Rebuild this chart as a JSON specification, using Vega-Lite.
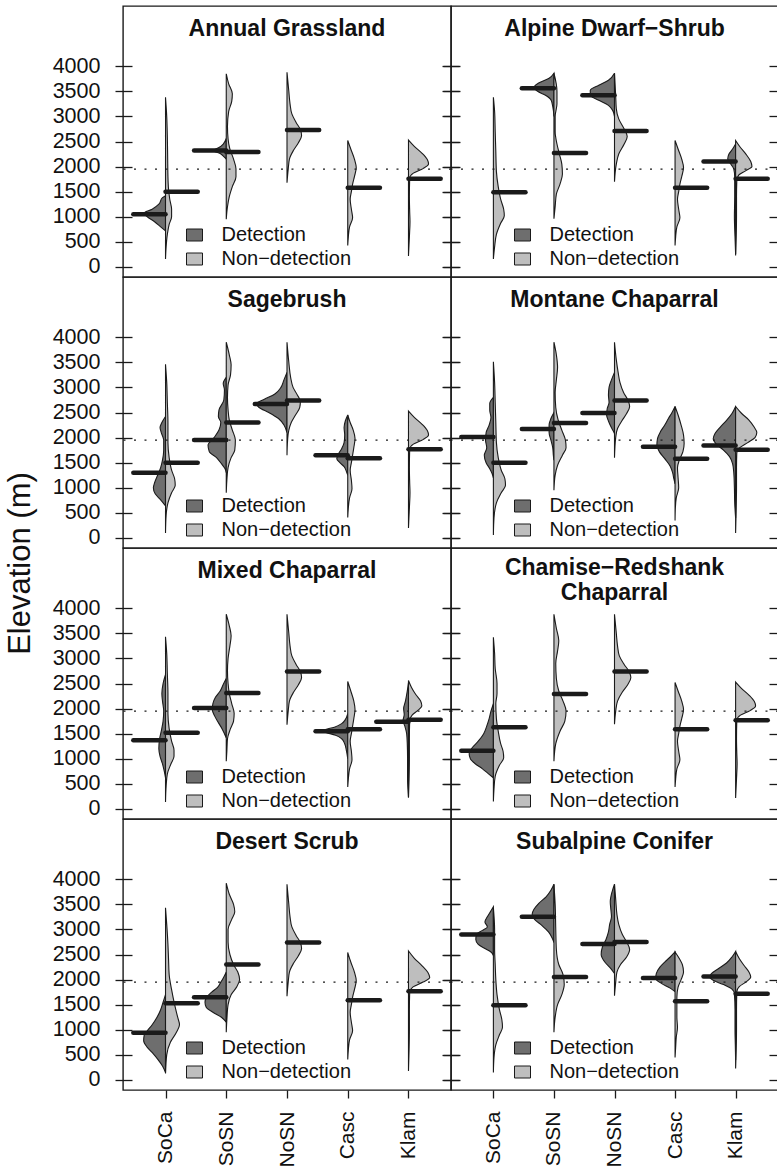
{
  "$schema": "https://vega.github.io/schema/vega-lite/v6.json",
  "background": "white",
  "padding": {"left": 5, "top": 5, "right": 0, "bottom": 0},
  "title": {"text": "Elevation (m)", "orient": "left", "anchor": "middle", "frame": "bounds", "fontSize": 31, "fontWeight": "normal", "offset": -10, "baseline": "alphabetic", "color": "#111", "dx": 23},
  "data": {"values": [
    {"p":1,"r":"SoCa","g":"D","e":1420,"d":0},{"p":1,"r":"SoCa","g":"D","e":1380,"d":0.05},{"p":1,"r":"SoCa","g":"D","e":1250,"d":0.11},{"p":1,"r":"SoCa","g":"D","e":1150,"d":0.22},{"p":1,"r":"SoCa","g":"D","e":1070,"d":0.36},{"p":1,"r":"SoCa","g":"D","e":1000,"d":0.3},{"p":1,"r":"SoCa","g":"D","e":900,"d":0.18},{"p":1,"r":"SoCa","g":"D","e":800,"d":0.08},{"p":1,"r":"SoCa","g":"D","e":720,"d":0},
    {"p":1,"r":"SoCa","g":"N","e":3380,"d":0},{"p":1,"r":"SoCa","g":"N","e":3000,"d":0.02},{"p":1,"r":"SoCa","g":"N","e":2600,"d":0.03},{"p":1,"r":"SoCa","g":"N","e":2200,"d":0.035},{"p":1,"r":"SoCa","g":"N","e":1800,"d":0.04},{"p":1,"r":"SoCa","g":"N","e":1550,"d":0.05},{"p":1,"r":"SoCa","g":"N","e":1350,"d":0.07},{"p":1,"r":"SoCa","g":"N","e":1150,"d":0.1},{"p":1,"r":"SoCa","g":"N","e":1000,"d":0.1},{"p":1,"r":"SoCa","g":"N","e":850,"d":0.06},{"p":1,"r":"SoCa","g":"N","e":650,"d":0.03},{"p":1,"r":"SoCa","g":"N","e":400,"d":0.01},{"p":1,"r":"SoCa","g":"N","e":160,"d":0},
    {"p":1,"r":"SoSN","g":"D","e":2560,"d":0},{"p":1,"r":"SoSN","g":"D","e":2450,"d":0.05},{"p":1,"r":"SoSN","g":"D","e":2380,"d":0.12},{"p":1,"r":"SoSN","g":"D","e":2320,"d":0.22},{"p":1,"r":"SoSN","g":"D","e":2260,"d":0.1},{"p":1,"r":"SoSN","g":"D","e":2200,"d":0.04},{"p":1,"r":"SoSN","g":"D","e":2150,"d":0},
    {"p":1,"r":"SoSN","g":"N","e":3850,"d":0},{"p":1,"r":"SoSN","g":"N","e":3650,"d":0.04},{"p":1,"r":"SoSN","g":"N","e":3450,"d":0.1},{"p":1,"r":"SoSN","g":"N","e":3300,"d":0.09},{"p":1,"r":"SoSN","g":"N","e":3100,"d":0.04},{"p":1,"r":"SoSN","g":"N","e":2800,"d":0.02},{"p":1,"r":"SoSN","g":"N","e":2550,"d":0.03},{"p":1,"r":"SoSN","g":"N","e":2350,"d":0.06},{"p":1,"r":"SoSN","g":"N","e":2150,"d":0.12},{"p":1,"r":"SoSN","g":"N","e":1950,"d":0.16},{"p":1,"r":"SoSN","g":"N","e":1800,"d":0.16},{"p":1,"r":"SoSN","g":"N","e":1600,"d":0.1},{"p":1,"r":"SoSN","g":"N","e":1400,"d":0.05},{"p":1,"r":"SoSN","g":"N","e":1200,"d":0.02},{"p":1,"r":"SoSN","g":"N","e":950,"d":0},
    {"p":1,"r":"NoSN","g":"N","e":3880,"d":0},{"p":1,"r":"NoSN","g":"N","e":3500,"d":0.03},{"p":1,"r":"NoSN","g":"N","e":3250,"d":0.05},{"p":1,"r":"NoSN","g":"N","e":3050,"d":0.08},{"p":1,"r":"NoSN","g":"N","e":2880,"d":0.15},{"p":1,"r":"NoSN","g":"N","e":2740,"d":0.22},{"p":1,"r":"NoSN","g":"N","e":2620,"d":0.24},{"p":1,"r":"NoSN","g":"N","e":2480,"d":0.19},{"p":1,"r":"NoSN","g":"N","e":2330,"d":0.11},{"p":1,"r":"NoSN","g":"N","e":2150,"d":0.04},{"p":1,"r":"NoSN","g":"N","e":1950,"d":0.02},{"p":1,"r":"NoSN","g":"N","e":1680,"d":0},
    {"p":1,"r":"Casc","g":"N","e":2520,"d":0},{"p":1,"r":"Casc","g":"N","e":2350,"d":0.05},{"p":1,"r":"Casc","g":"N","e":2150,"d":0.11},{"p":1,"r":"Casc","g":"N","e":1980,"d":0.14},{"p":1,"r":"Casc","g":"N","e":1800,"d":0.11},{"p":1,"r":"Casc","g":"N","e":1650,"d":0.08},{"p":1,"r":"Casc","g":"N","e":1500,"d":0.06},{"p":1,"r":"Casc","g":"N","e":1350,"d":0.04},{"p":1,"r":"Casc","g":"N","e":1150,"d":0.06},{"p":1,"r":"Casc","g":"N","e":980,"d":0.08},{"p":1,"r":"Casc","g":"N","e":800,"d":0.03},{"p":1,"r":"Casc","g":"N","e":600,"d":0.01},{"p":1,"r":"Casc","g":"N","e":430,"d":0},
    {"p":1,"r":"Klam","g":"N","e":2530,"d":0},{"p":1,"r":"Klam","g":"N","e":2400,"d":0.1},{"p":1,"r":"Klam","g":"N","e":2270,"d":0.22},{"p":1,"r":"Klam","g":"N","e":2140,"d":0.31},{"p":1,"r":"Klam","g":"N","e":2050,"d":0.33},{"p":1,"r":"Klam","g":"N","e":1960,"d":0.24},{"p":1,"r":"Klam","g":"N","e":1870,"d":0.08},{"p":1,"r":"Klam","g":"N","e":1770,"d":0.02},{"p":1,"r":"Klam","g":"N","e":1400,"d":0.015},{"p":1,"r":"Klam","g":"N","e":1100,"d":0.02},{"p":1,"r":"Klam","g":"N","e":900,"d":0.025},{"p":1,"r":"Klam","g":"N","e":600,"d":0.015},{"p":1,"r":"Klam","g":"N","e":220,"d":0},

    {"p":2,"r":"SoCa","g":"N","e":3380,"d":0},{"p":2,"r":"SoCa","g":"N","e":3100,"d":0.02},{"p":2,"r":"SoCa","g":"N","e":2700,"d":0.03},{"p":2,"r":"SoCa","g":"N","e":2300,"d":0.04},{"p":2,"r":"SoCa","g":"N","e":1900,"d":0.05},{"p":2,"r":"SoCa","g":"N","e":1600,"d":0.08},{"p":2,"r":"SoCa","g":"N","e":1350,"d":0.12},{"p":2,"r":"SoCa","g":"N","e":1150,"d":0.17},{"p":2,"r":"SoCa","g":"N","e":1020,"d":0.18},{"p":2,"r":"SoCa","g":"N","e":870,"d":0.12},{"p":2,"r":"SoCa","g":"N","e":650,"d":0.05},{"p":2,"r":"SoCa","g":"N","e":400,"d":0.02},{"p":2,"r":"SoCa","g":"N","e":160,"d":0},
    {"p":2,"r":"SoSN","g":"D","e":3860,"d":0},{"p":2,"r":"SoSN","g":"D","e":3760,"d":0.08},{"p":2,"r":"SoSN","g":"D","e":3660,"d":0.26},{"p":2,"r":"SoSN","g":"D","e":3580,"d":0.33},{"p":2,"r":"SoSN","g":"D","e":3500,"d":0.27},{"p":2,"r":"SoSN","g":"D","e":3420,"d":0.14},{"p":2,"r":"SoSN","g":"D","e":3330,"d":0.05},{"p":2,"r":"SoSN","g":"D","e":3200,"d":0.02},{"p":2,"r":"SoSN","g":"D","e":3000,"d":0},
    {"p":2,"r":"SoSN","g":"N","e":3860,"d":0},{"p":2,"r":"SoSN","g":"N","e":3500,"d":0.05},{"p":2,"r":"SoSN","g":"N","e":3250,"d":0.05},{"p":2,"r":"SoSN","g":"N","e":3000,"d":0.02},{"p":2,"r":"SoSN","g":"N","e":2700,"d":0.02},{"p":2,"r":"SoSN","g":"N","e":2450,"d":0.05},{"p":2,"r":"SoSN","g":"N","e":2250,"d":0.09},{"p":2,"r":"SoSN","g":"N","e":2050,"d":0.13},{"p":2,"r":"SoSN","g":"N","e":1850,"d":0.14},{"p":2,"r":"SoSN","g":"N","e":1650,"d":0.1},{"p":2,"r":"SoSN","g":"N","e":1450,"d":0.04},{"p":2,"r":"SoSN","g":"N","e":1200,"d":0.02},{"p":2,"r":"SoSN","g":"N","e":960,"d":0},
    {"p":2,"r":"NoSN","g":"D","e":3860,"d":0},{"p":2,"r":"NoSN","g":"D","e":3720,"d":0.1},{"p":2,"r":"NoSN","g":"D","e":3620,"d":0.26},{"p":2,"r":"NoSN","g":"D","e":3520,"d":0.4},{"p":2,"r":"NoSN","g":"D","e":3420,"d":0.4},{"p":2,"r":"NoSN","g":"D","e":3320,"d":0.26},{"p":2,"r":"NoSN","g":"D","e":3220,"d":0.1},{"p":2,"r":"NoSN","g":"D","e":3120,"d":0.03},{"p":2,"r":"NoSN","g":"D","e":3000,"d":0},
    {"p":2,"r":"NoSN","g":"N","e":3860,"d":0},{"p":2,"r":"NoSN","g":"N","e":3400,"d":0.02},{"p":2,"r":"NoSN","g":"N","e":3150,"d":0.03},{"p":2,"r":"NoSN","g":"N","e":2950,"d":0.07},{"p":2,"r":"NoSN","g":"N","e":2750,"d":0.16},{"p":2,"r":"NoSN","g":"N","e":2600,"d":0.21},{"p":2,"r":"NoSN","g":"N","e":2450,"d":0.16},{"p":2,"r":"NoSN","g":"N","e":2250,"d":0.07},{"p":2,"r":"NoSN","g":"N","e":2050,"d":0.03},{"p":2,"r":"NoSN","g":"N","e":1700,"d":0},
    {"p":2,"r":"Casc","g":"N","e":2520,"d":0},{"p":2,"r":"Casc","g":"N","e":2350,"d":0.05},{"p":2,"r":"Casc","g":"N","e":2150,"d":0.11},{"p":2,"r":"Casc","g":"N","e":1980,"d":0.14},{"p":2,"r":"Casc","g":"N","e":1800,"d":0.11},{"p":2,"r":"Casc","g":"N","e":1650,"d":0.08},{"p":2,"r":"Casc","g":"N","e":1500,"d":0.06},{"p":2,"r":"Casc","g":"N","e":1350,"d":0.04},{"p":2,"r":"Casc","g":"N","e":1150,"d":0.06},{"p":2,"r":"Casc","g":"N","e":980,"d":0.08},{"p":2,"r":"Casc","g":"N","e":800,"d":0.03},{"p":2,"r":"Casc","g":"N","e":600,"d":0.01},{"p":2,"r":"Casc","g":"N","e":430,"d":0},
    {"p":2,"r":"Klam","g":"D","e":2450,"d":0},{"p":2,"r":"Klam","g":"D","e":2350,"d":0.05},{"p":2,"r":"Klam","g":"D","e":2250,"d":0.11},{"p":2,"r":"Klam","g":"D","e":2150,"d":0.13},{"p":2,"r":"Klam","g":"D","e":2050,"d":0.08},{"p":2,"r":"Klam","g":"D","e":1950,"d":0.03},{"p":2,"r":"Klam","g":"D","e":1800,"d":0.015},{"p":2,"r":"Klam","g":"D","e":1400,"d":0.015},{"p":2,"r":"Klam","g":"D","e":1000,"d":0.02},{"p":2,"r":"Klam","g":"D","e":600,"d":0.01},{"p":2,"r":"Klam","g":"D","e":260,"d":0},
    {"p":2,"r":"Klam","g":"N","e":2520,"d":0},{"p":2,"r":"Klam","g":"N","e":2380,"d":0.08},{"p":2,"r":"Klam","g":"N","e":2250,"d":0.17},{"p":2,"r":"Klam","g":"N","e":2100,"d":0.25},{"p":2,"r":"Klam","g":"N","e":2000,"d":0.27},{"p":2,"r":"Klam","g":"N","e":1920,"d":0.17},{"p":2,"r":"Klam","g":"N","e":1830,"d":0.05},{"p":2,"r":"Klam","g":"N","e":1720,"d":0.02},{"p":2,"r":"Klam","g":"N","e":1400,"d":0.015},{"p":2,"r":"Klam","g":"N","e":1000,"d":0.015},{"p":2,"r":"Klam","g":"N","e":600,"d":0.01},{"p":2,"r":"Klam","g":"N","e":230,"d":0},

    {"p":3,"r":"SoCa","g":"D","e":2420,"d":0},{"p":3,"r":"SoCa","g":"D","e":2300,"d":0.06},{"p":3,"r":"SoCa","g":"D","e":2200,"d":0.09},{"p":3,"r":"SoCa","g":"D","e":2100,"d":0.07},{"p":3,"r":"SoCa","g":"D","e":1950,"d":0.03},{"p":3,"r":"SoCa","g":"D","e":1750,"d":0.03},{"p":3,"r":"SoCa","g":"D","e":1550,"d":0.05},{"p":3,"r":"SoCa","g":"D","e":1400,"d":0.08},{"p":3,"r":"SoCa","g":"D","e":1250,"d":0.13},{"p":3,"r":"SoCa","g":"D","e":1100,"d":0.18},{"p":3,"r":"SoCa","g":"D","e":1000,"d":0.2},{"p":3,"r":"SoCa","g":"D","e":880,"d":0.17},{"p":3,"r":"SoCa","g":"D","e":760,"d":0.08},{"p":3,"r":"SoCa","g":"D","e":640,"d":0},
    {"p":3,"r":"SoCa","g":"N","e":3460,"d":0},{"p":3,"r":"SoCa","g":"N","e":3100,"d":0.02},{"p":3,"r":"SoCa","g":"N","e":2700,"d":0.03},{"p":3,"r":"SoCa","g":"N","e":2300,"d":0.04},{"p":3,"r":"SoCa","g":"N","e":1900,"d":0.04},{"p":3,"r":"SoCa","g":"N","e":1600,"d":0.06},{"p":3,"r":"SoCa","g":"N","e":1350,"d":0.1},{"p":3,"r":"SoCa","g":"N","e":1180,"d":0.15},{"p":3,"r":"SoCa","g":"N","e":1050,"d":0.16},{"p":3,"r":"SoCa","g":"N","e":900,"d":0.1},{"p":3,"r":"SoCa","g":"N","e":700,"d":0.04},{"p":3,"r":"SoCa","g":"N","e":450,"d":0.01},{"p":3,"r":"SoCa","g":"N","e":100,"d":0},
    {"p":3,"r":"SoSN","g":"D","e":3200,"d":0},{"p":3,"r":"SoSN","g":"D","e":3080,"d":0.05},{"p":3,"r":"SoSN","g":"D","e":2950,"d":0.03},{"p":3,"r":"SoSN","g":"D","e":2750,"d":0.04},{"p":3,"r":"SoSN","g":"D","e":2550,"d":0.12},{"p":3,"r":"SoSN","g":"D","e":2420,"d":0.13},{"p":3,"r":"SoSN","g":"D","e":2300,"d":0.09},{"p":3,"r":"SoSN","g":"D","e":2150,"d":0.12},{"p":3,"r":"SoSN","g":"D","e":2000,"d":0.2},{"p":3,"r":"SoSN","g":"D","e":1850,"d":0.3},{"p":3,"r":"SoSN","g":"D","e":1720,"d":0.28},{"p":3,"r":"SoSN","g":"D","e":1600,"d":0.16},{"p":3,"r":"SoSN","g":"D","e":1480,"d":0.08},{"p":3,"r":"SoSN","g":"D","e":1380,"d":0.02},{"p":3,"r":"SoSN","g":"D","e":1300,"d":0},
    {"p":3,"r":"SoSN","g":"N","e":3900,"d":0},{"p":3,"r":"SoSN","g":"N","e":3650,"d":0.05},{"p":3,"r":"SoSN","g":"N","e":3450,"d":0.08},{"p":3,"r":"SoSN","g":"N","e":3250,"d":0.07},{"p":3,"r":"SoSN","g":"N","e":3050,"d":0.03},{"p":3,"r":"SoSN","g":"N","e":2800,"d":0.02},{"p":3,"r":"SoSN","g":"N","e":2550,"d":0.03},{"p":3,"r":"SoSN","g":"N","e":2350,"d":0.05},{"p":3,"r":"SoSN","g":"N","e":2150,"d":0.1},{"p":3,"r":"SoSN","g":"N","e":1950,"d":0.15},{"p":3,"r":"SoSN","g":"N","e":1750,"d":0.14},{"p":3,"r":"SoSN","g":"N","e":1600,"d":0.08},{"p":3,"r":"SoSN","g":"N","e":1400,"d":0.03},{"p":3,"r":"SoSN","g":"N","e":1150,"d":0.01},{"p":3,"r":"SoSN","g":"N","e":900,"d":0},
    {"p":3,"r":"NoSN","g":"D","e":3300,"d":0},{"p":3,"r":"NoSN","g":"D","e":3150,"d":0.05},{"p":3,"r":"NoSN","g":"D","e":3000,"d":0.1},{"p":3,"r":"NoSN","g":"D","e":2870,"d":0.2},{"p":3,"r":"NoSN","g":"D","e":2760,"d":0.38},{"p":3,"r":"NoSN","g":"D","e":2680,"d":0.5},{"p":3,"r":"NoSN","g":"D","e":2600,"d":0.46},{"p":3,"r":"NoSN","g":"D","e":2500,"d":0.3},{"p":3,"r":"NoSN","g":"D","e":2380,"d":0.14},{"p":3,"r":"NoSN","g":"D","e":2250,"d":0.05},{"p":3,"r":"NoSN","g":"D","e":2100,"d":0},
    {"p":3,"r":"NoSN","g":"N","e":3900,"d":0},{"p":3,"r":"NoSN","g":"N","e":3500,"d":0.03},{"p":3,"r":"NoSN","g":"N","e":3200,"d":0.06},{"p":3,"r":"NoSN","g":"N","e":3000,"d":0.1},{"p":3,"r":"NoSN","g":"N","e":2850,"d":0.17},{"p":3,"r":"NoSN","g":"N","e":2720,"d":0.22},{"p":3,"r":"NoSN","g":"N","e":2600,"d":0.21},{"p":3,"r":"NoSN","g":"N","e":2450,"d":0.14},{"p":3,"r":"NoSN","g":"N","e":2300,"d":0.07},{"p":3,"r":"NoSN","g":"N","e":2150,"d":0.03},{"p":3,"r":"NoSN","g":"N","e":1950,"d":0.01},{"p":3,"r":"NoSN","g":"N","e":1650,"d":0},
    {"p":3,"r":"Casc","g":"D","e":2450,"d":0},{"p":3,"r":"Casc","g":"D","e":2330,"d":0.04},{"p":3,"r":"Casc","g":"D","e":2200,"d":0.06},{"p":3,"r":"Casc","g":"D","e":2050,"d":0.05},{"p":3,"r":"Casc","g":"D","e":1900,"d":0.06},{"p":3,"r":"Casc","g":"D","e":1780,"d":0.1},{"p":3,"r":"Casc","g":"D","e":1680,"d":0.15},{"p":3,"r":"Casc","g":"D","e":1580,"d":0.18},{"p":3,"r":"Casc","g":"D","e":1500,"d":0.13},{"p":3,"r":"Casc","g":"D","e":1420,"d":0.06},{"p":3,"r":"Casc","g":"D","e":1320,"d":0.02},{"p":3,"r":"Casc","g":"D","e":1250,"d":0},
    {"p":3,"r":"Casc","g":"N","e":2450,"d":0},{"p":3,"r":"Casc","g":"N","e":2300,"d":0.04},{"p":3,"r":"Casc","g":"N","e":2150,"d":0.09},{"p":3,"r":"Casc","g":"N","e":1980,"d":0.12},{"p":3,"r":"Casc","g":"N","e":1800,"d":0.1},{"p":3,"r":"Casc","g":"N","e":1650,"d":0.08},{"p":3,"r":"Casc","g":"N","e":1500,"d":0.06},{"p":3,"r":"Casc","g":"N","e":1350,"d":0.04},{"p":3,"r":"Casc","g":"N","e":1150,"d":0.06},{"p":3,"r":"Casc","g":"N","e":980,"d":0.07},{"p":3,"r":"Casc","g":"N","e":800,"d":0.03},{"p":3,"r":"Casc","g":"N","e":600,"d":0.01},{"p":3,"r":"Casc","g":"N","e":410,"d":0},
    {"p":3,"r":"Klam","g":"N","e":2530,"d":0},{"p":3,"r":"Klam","g":"N","e":2400,"d":0.1},{"p":3,"r":"Klam","g":"N","e":2270,"d":0.22},{"p":3,"r":"Klam","g":"N","e":2140,"d":0.31},{"p":3,"r":"Klam","g":"N","e":2050,"d":0.33},{"p":3,"r":"Klam","g":"N","e":1960,"d":0.24},{"p":3,"r":"Klam","g":"N","e":1870,"d":0.08},{"p":3,"r":"Klam","g":"N","e":1770,"d":0.02},{"p":3,"r":"Klam","g":"N","e":1400,"d":0.015},{"p":3,"r":"Klam","g":"N","e":1100,"d":0.02},{"p":3,"r":"Klam","g":"N","e":900,"d":0.025},{"p":3,"r":"Klam","g":"N","e":600,"d":0.015},{"p":3,"r":"Klam","g":"N","e":200,"d":0},

    {"p":4,"r":"SoCa","g":"D","e":2800,"d":0},{"p":4,"r":"SoCa","g":"D","e":2680,"d":0.06},{"p":4,"r":"SoCa","g":"D","e":2550,"d":0.06},{"p":4,"r":"SoCa","g":"D","e":2400,"d":0.04},{"p":4,"r":"SoCa","g":"D","e":2250,"d":0.07},{"p":4,"r":"SoCa","g":"D","e":2100,"d":0.12},{"p":4,"r":"SoCa","g":"D","e":1950,"d":0.13},{"p":4,"r":"SoCa","g":"D","e":1800,"d":0.11},{"p":4,"r":"SoCa","g":"D","e":1650,"d":0.15},{"p":4,"r":"SoCa","g":"D","e":1500,"d":0.12},{"p":4,"r":"SoCa","g":"D","e":1380,"d":0.06},{"p":4,"r":"SoCa","g":"D","e":1280,"d":0.02},{"p":4,"r":"SoCa","g":"D","e":1200,"d":0},
    {"p":4,"r":"SoCa","g":"N","e":3510,"d":0},{"p":4,"r":"SoCa","g":"N","e":3100,"d":0.02},{"p":4,"r":"SoCa","g":"N","e":2700,"d":0.03},{"p":4,"r":"SoCa","g":"N","e":2300,"d":0.04},{"p":4,"r":"SoCa","g":"N","e":1900,"d":0.05},{"p":4,"r":"SoCa","g":"N","e":1600,"d":0.08},{"p":4,"r":"SoCa","g":"N","e":1350,"d":0.13},{"p":4,"r":"SoCa","g":"N","e":1180,"d":0.19},{"p":4,"r":"SoCa","g":"N","e":1050,"d":0.2},{"p":4,"r":"SoCa","g":"N","e":900,"d":0.13},{"p":4,"r":"SoCa","g":"N","e":700,"d":0.05},{"p":4,"r":"SoCa","g":"N","e":400,"d":0.01},{"p":4,"r":"SoCa","g":"N","e":60,"d":0},
    {"p":4,"r":"SoSN","g":"D","e":2500,"d":0},{"p":4,"r":"SoSN","g":"D","e":2380,"d":0.05},{"p":4,"r":"SoSN","g":"D","e":2250,"d":0.08},{"p":4,"r":"SoSN","g":"D","e":2100,"d":0.08},{"p":4,"r":"SoSN","g":"D","e":1950,"d":0.05},{"p":4,"r":"SoSN","g":"D","e":1800,"d":0.02},{"p":4,"r":"SoSN","g":"D","e":1650,"d":0.01},{"p":4,"r":"SoSN","g":"D","e":1550,"d":0},
    {"p":4,"r":"SoSN","g":"N","e":3900,"d":0},{"p":4,"r":"SoSN","g":"N","e":3650,"d":0.04},{"p":4,"r":"SoSN","g":"N","e":3400,"d":0.06},{"p":4,"r":"SoSN","g":"N","e":3150,"d":0.04},{"p":4,"r":"SoSN","g":"N","e":2900,"d":0.02},{"p":4,"r":"SoSN","g":"N","e":2600,"d":0.03},{"p":4,"r":"SoSN","g":"N","e":2350,"d":0.07},{"p":4,"r":"SoSN","g":"N","e":2150,"d":0.13},{"p":4,"r":"SoSN","g":"N","e":1950,"d":0.19},{"p":4,"r":"SoSN","g":"N","e":1800,"d":0.2},{"p":4,"r":"SoSN","g":"N","e":1650,"d":0.14},{"p":4,"r":"SoSN","g":"N","e":1450,"d":0.06},{"p":4,"r":"SoSN","g":"N","e":1250,"d":0.02},{"p":4,"r":"SoSN","g":"N","e":950,"d":0},
    {"p":4,"r":"NoSN","g":"D","e":3300,"d":0},{"p":4,"r":"NoSN","g":"D","e":3150,"d":0.05},{"p":4,"r":"NoSN","g":"D","e":3000,"d":0.09},{"p":4,"r":"NoSN","g":"D","e":2850,"d":0.1},{"p":4,"r":"NoSN","g":"D","e":2700,"d":0.09},{"p":4,"r":"NoSN","g":"D","e":2580,"d":0.12},{"p":4,"r":"NoSN","g":"D","e":2450,"d":0.13},{"p":4,"r":"NoSN","g":"D","e":2330,"d":0.1},{"p":4,"r":"NoSN","g":"D","e":2220,"d":0.06},{"p":4,"r":"NoSN","g":"D","e":2130,"d":0.02},{"p":4,"r":"NoSN","g":"D","e":2080,"d":0},
    {"p":4,"r":"NoSN","g":"N","e":3900,"d":0},{"p":4,"r":"NoSN","g":"N","e":3550,"d":0.03},{"p":4,"r":"NoSN","g":"N","e":3300,"d":0.06},{"p":4,"r":"NoSN","g":"N","e":3100,"d":0.09},{"p":4,"r":"NoSN","g":"N","e":2900,"d":0.15},{"p":4,"r":"NoSN","g":"N","e":2750,"d":0.22},{"p":4,"r":"NoSN","g":"N","e":2620,"d":0.25},{"p":4,"r":"NoSN","g":"N","e":2480,"d":0.2},{"p":4,"r":"NoSN","g":"N","e":2330,"d":0.12},{"p":4,"r":"NoSN","g":"N","e":2180,"d":0.05},{"p":4,"r":"NoSN","g":"N","e":2000,"d":0.02},{"p":4,"r":"NoSN","g":"N","e":1600,"d":0},
    {"p":4,"r":"Casc","g":"D","e":2620,"d":0},{"p":4,"r":"Casc","g":"D","e":2500,"d":0.05},{"p":4,"r":"Casc","g":"D","e":2380,"d":0.11},{"p":4,"r":"Casc","g":"D","e":2250,"d":0.17},{"p":4,"r":"Casc","g":"D","e":2120,"d":0.24},{"p":4,"r":"Casc","g":"D","e":1980,"d":0.29},{"p":4,"r":"Casc","g":"D","e":1850,"d":0.3},{"p":4,"r":"Casc","g":"D","e":1720,"d":0.26},{"p":4,"r":"Casc","g":"D","e":1580,"d":0.17},{"p":4,"r":"Casc","g":"D","e":1430,"d":0.08},{"p":4,"r":"Casc","g":"D","e":1300,"d":0.04},{"p":4,"r":"Casc","g":"D","e":1180,"d":0.02},{"p":4,"r":"Casc","g":"D","e":1080,"d":0},
    {"p":4,"r":"Casc","g":"N","e":2620,"d":0},{"p":4,"r":"Casc","g":"N","e":2450,"d":0.05},{"p":4,"r":"Casc","g":"N","e":2250,"d":0.1},{"p":4,"r":"Casc","g":"N","e":2050,"d":0.14},{"p":4,"r":"Casc","g":"N","e":1880,"d":0.15},{"p":4,"r":"Casc","g":"N","e":1720,"d":0.13},{"p":4,"r":"Casc","g":"N","e":1550,"d":0.07},{"p":4,"r":"Casc","g":"N","e":1400,"d":0.04},{"p":4,"r":"Casc","g":"N","e":1200,"d":0.05},{"p":4,"r":"Casc","g":"N","e":1000,"d":0.06},{"p":4,"r":"Casc","g":"N","e":800,"d":0.02},{"p":4,"r":"Casc","g":"N","e":600,"d":0.005},{"p":4,"r":"Casc","g":"N","e":350,"d":0},
    {"p":4,"r":"Klam","g":"D","e":2620,"d":0},{"p":4,"r":"Klam","g":"D","e":2480,"d":0.06},{"p":4,"r":"Klam","g":"D","e":2330,"d":0.16},{"p":4,"r":"Klam","g":"D","e":2200,"d":0.26},{"p":4,"r":"Klam","g":"D","e":2080,"d":0.34},{"p":4,"r":"Klam","g":"D","e":1970,"d":0.37},{"p":4,"r":"Klam","g":"D","e":1870,"d":0.32},{"p":4,"r":"Klam","g":"D","e":1750,"d":0.2},{"p":4,"r":"Klam","g":"D","e":1620,"d":0.1},{"p":4,"r":"Klam","g":"D","e":1480,"d":0.05},{"p":4,"r":"Klam","g":"D","e":1300,"d":0.03},{"p":4,"r":"Klam","g":"D","e":1000,"d":0.02},{"p":4,"r":"Klam","g":"D","e":700,"d":0.015},{"p":4,"r":"Klam","g":"D","e":400,"d":0},
    {"p":4,"r":"Klam","g":"N","e":2620,"d":0},{"p":4,"r":"Klam","g":"N","e":2480,"d":0.1},{"p":4,"r":"Klam","g":"N","e":2350,"d":0.22},{"p":4,"r":"Klam","g":"N","e":2220,"d":0.3},{"p":4,"r":"Klam","g":"N","e":2100,"d":0.35},{"p":4,"r":"Klam","g":"N","e":2000,"d":0.32},{"p":4,"r":"Klam","g":"N","e":1900,"d":0.2},{"p":4,"r":"Klam","g":"N","e":1800,"d":0.07},{"p":4,"r":"Klam","g":"N","e":1700,"d":0.02},{"p":4,"r":"Klam","g":"N","e":1400,"d":0.015},{"p":4,"r":"Klam","g":"N","e":1000,"d":0.015},{"p":4,"r":"Klam","g":"N","e":600,"d":0.01},{"p":4,"r":"Klam","g":"N","e":100,"d":0},

    {"p":5,"r":"SoCa","g":"D","e":2680,"d":0},{"p":5,"r":"SoCa","g":"D","e":2500,"d":0.04},{"p":5,"r":"SoCa","g":"D","e":2300,"d":0.06},{"p":5,"r":"SoCa","g":"D","e":2150,"d":0.05},{"p":5,"r":"SoCa","g":"D","e":1950,"d":0.03},{"p":5,"r":"SoCa","g":"D","e":1750,"d":0.04},{"p":5,"r":"SoCa","g":"D","e":1550,"d":0.07},{"p":5,"r":"SoCa","g":"D","e":1380,"d":0.1},{"p":5,"r":"SoCa","g":"D","e":1200,"d":0.11},{"p":5,"r":"SoCa","g":"D","e":1050,"d":0.09},{"p":5,"r":"SoCa","g":"D","e":900,"d":0.05},{"p":5,"r":"SoCa","g":"D","e":750,"d":0.02},{"p":5,"r":"SoCa","g":"D","e":620,"d":0},
    {"p":5,"r":"SoCa","g":"N","e":3430,"d":0},{"p":5,"r":"SoCa","g":"N","e":3100,"d":0.02},{"p":5,"r":"SoCa","g":"N","e":2700,"d":0.03},{"p":5,"r":"SoCa","g":"N","e":2300,"d":0.04},{"p":5,"r":"SoCa","g":"N","e":1900,"d":0.04},{"p":5,"r":"SoCa","g":"N","e":1600,"d":0.06},{"p":5,"r":"SoCa","g":"N","e":1350,"d":0.1},{"p":5,"r":"SoCa","g":"N","e":1170,"d":0.14},{"p":5,"r":"SoCa","g":"N","e":1050,"d":0.14},{"p":5,"r":"SoCa","g":"N","e":900,"d":0.09},{"p":5,"r":"SoCa","g":"N","e":700,"d":0.03},{"p":5,"r":"SoCa","g":"N","e":450,"d":0.01},{"p":5,"r":"SoCa","g":"N","e":140,"d":0},
    {"p":5,"r":"SoSN","g":"D","e":2600,"d":0},{"p":5,"r":"SoSN","g":"D","e":2480,"d":0.05},{"p":5,"r":"SoSN","g":"D","e":2350,"d":0.1},{"p":5,"r":"SoSN","g":"D","e":2220,"d":0.18},{"p":5,"r":"SoSN","g":"D","e":2100,"d":0.22},{"p":5,"r":"SoSN","g":"D","e":1980,"d":0.23},{"p":5,"r":"SoSN","g":"D","e":1850,"d":0.19},{"p":5,"r":"SoSN","g":"D","e":1720,"d":0.13},{"p":5,"r":"SoSN","g":"D","e":1600,"d":0.07},{"p":5,"r":"SoSN","g":"D","e":1500,"d":0.03},{"p":5,"r":"SoSN","g":"D","e":1420,"d":0},
    {"p":5,"r":"SoSN","g":"N","e":3880,"d":0},{"p":5,"r":"SoSN","g":"N","e":3650,"d":0.05},{"p":5,"r":"SoSN","g":"N","e":3450,"d":0.08},{"p":5,"r":"SoSN","g":"N","e":3250,"d":0.06},{"p":5,"r":"SoSN","g":"N","e":3000,"d":0.03},{"p":5,"r":"SoSN","g":"N","e":2750,"d":0.02},{"p":5,"r":"SoSN","g":"N","e":2500,"d":0.03},{"p":5,"r":"SoSN","g":"N","e":2300,"d":0.05},{"p":5,"r":"SoSN","g":"N","e":2100,"d":0.09},{"p":5,"r":"SoSN","g":"N","e":1900,"d":0.13},{"p":5,"r":"SoSN","g":"N","e":1750,"d":0.12},{"p":5,"r":"SoSN","g":"N","e":1600,"d":0.07},{"p":5,"r":"SoSN","g":"N","e":1400,"d":0.02},{"p":5,"r":"SoSN","g":"N","e":1150,"d":0.01},{"p":5,"r":"SoSN","g":"N","e":950,"d":0},
    {"p":5,"r":"NoSN","g":"N","e":3880,"d":0},{"p":5,"r":"NoSN","g":"N","e":3500,"d":0.03},{"p":5,"r":"NoSN","g":"N","e":3250,"d":0.05},{"p":5,"r":"NoSN","g":"N","e":3050,"d":0.08},{"p":5,"r":"NoSN","g":"N","e":2880,"d":0.15},{"p":5,"r":"NoSN","g":"N","e":2740,"d":0.22},{"p":5,"r":"NoSN","g":"N","e":2620,"d":0.24},{"p":5,"r":"NoSN","g":"N","e":2480,"d":0.19},{"p":5,"r":"NoSN","g":"N","e":2330,"d":0.11},{"p":5,"r":"NoSN","g":"N","e":2150,"d":0.04},{"p":5,"r":"NoSN","g":"N","e":1950,"d":0.02},{"p":5,"r":"NoSN","g":"N","e":1680,"d":0},
    {"p":5,"r":"Casc","g":"D","e":1900,"d":0},{"p":5,"r":"Casc","g":"D","e":1780,"d":0.04},{"p":5,"r":"Casc","g":"D","e":1700,"d":0.1},{"p":5,"r":"Casc","g":"D","e":1630,"d":0.22},{"p":5,"r":"Casc","g":"D","e":1580,"d":0.38},{"p":5,"r":"Casc","g":"D","e":1555,"d":0.45},{"p":5,"r":"Casc","g":"D","e":1520,"d":0.35},{"p":5,"r":"Casc","g":"D","e":1470,"d":0.2},{"p":5,"r":"Casc","g":"D","e":1400,"d":0.1},{"p":5,"r":"Casc","g":"D","e":1300,"d":0.05},{"p":5,"r":"Casc","g":"D","e":1150,"d":0.02},{"p":5,"r":"Casc","g":"D","e":1000,"d":0},
    {"p":5,"r":"Casc","g":"N","e":2540,"d":0},{"p":5,"r":"Casc","g":"N","e":2350,"d":0.05},{"p":5,"r":"Casc","g":"N","e":2150,"d":0.1},{"p":5,"r":"Casc","g":"N","e":1980,"d":0.12},{"p":5,"r":"Casc","g":"N","e":1800,"d":0.1},{"p":5,"r":"Casc","g":"N","e":1650,"d":0.08},{"p":5,"r":"Casc","g":"N","e":1500,"d":0.06},{"p":5,"r":"Casc","g":"N","e":1350,"d":0.04},{"p":5,"r":"Casc","g":"N","e":1150,"d":0.06},{"p":5,"r":"Casc","g":"N","e":980,"d":0.07},{"p":5,"r":"Casc","g":"N","e":800,"d":0.03},{"p":5,"r":"Casc","g":"N","e":600,"d":0.01},{"p":5,"r":"Casc","g":"N","e":440,"d":0},
    {"p":5,"r":"Klam","g":"D","e":2520,"d":0},{"p":5,"r":"Klam","g":"D","e":2350,"d":0.02},{"p":5,"r":"Klam","g":"D","e":2150,"d":0.05},{"p":5,"r":"Klam","g":"D","e":2000,"d":0.08},{"p":5,"r":"Klam","g":"D","e":1880,"d":0.07},{"p":5,"r":"Klam","g":"D","e":1760,"d":0.09},{"p":5,"r":"Klam","g":"D","e":1650,"d":0.06},{"p":5,"r":"Klam","g":"D","e":1500,"d":0.03},{"p":5,"r":"Klam","g":"D","e":1300,"d":0.02},{"p":5,"r":"Klam","g":"D","e":1000,"d":0.015},{"p":5,"r":"Klam","g":"D","e":600,"d":0.015},{"p":5,"r":"Klam","g":"D","e":230,"d":0},
    {"p":5,"r":"Klam","g":"N","e":2560,"d":0},{"p":5,"r":"Klam","g":"N","e":2420,"d":0.05},{"p":5,"r":"Klam","g":"N","e":2280,"d":0.12},{"p":5,"r":"Klam","g":"N","e":2150,"d":0.2},{"p":5,"r":"Klam","g":"N","e":2050,"d":0.22},{"p":5,"r":"Klam","g":"N","e":1960,"d":0.15},{"p":5,"r":"Klam","g":"N","e":1870,"d":0.06},{"p":5,"r":"Klam","g":"N","e":1760,"d":0.02},{"p":5,"r":"Klam","g":"N","e":1400,"d":0.015},{"p":5,"r":"Klam","g":"N","e":1000,"d":0.015},{"p":5,"r":"Klam","g":"N","e":600,"d":0.01},{"p":5,"r":"Klam","g":"N","e":230,"d":0},

    {"p":6,"r":"SoCa","g":"D","e":2100,"d":0},{"p":6,"r":"SoCa","g":"D","e":1950,"d":0.04},{"p":6,"r":"SoCa","g":"D","e":1800,"d":0.07},{"p":6,"r":"SoCa","g":"D","e":1650,"d":0.11},{"p":6,"r":"SoCa","g":"D","e":1500,"d":0.16},{"p":6,"r":"SoCa","g":"D","e":1350,"d":0.25},{"p":6,"r":"SoCa","g":"D","e":1220,"d":0.35},{"p":6,"r":"SoCa","g":"D","e":1100,"d":0.4},{"p":6,"r":"SoCa","g":"D","e":1000,"d":0.38},{"p":6,"r":"SoCa","g":"D","e":900,"d":0.3},{"p":6,"r":"SoCa","g":"D","e":800,"d":0.18},{"p":6,"r":"SoCa","g":"D","e":700,"d":0.08},{"p":6,"r":"SoCa","g":"D","e":620,"d":0},
    {"p":6,"r":"SoCa","g":"N","e":3420,"d":0},{"p":6,"r":"SoCa","g":"N","e":3100,"d":0.02},{"p":6,"r":"SoCa","g":"N","e":2800,"d":0.03},{"p":6,"r":"SoCa","g":"N","e":2500,"d":0.06},{"p":6,"r":"SoCa","g":"N","e":2300,"d":0.06},{"p":6,"r":"SoCa","g":"N","e":2100,"d":0.04},{"p":6,"r":"SoCa","g":"N","e":1800,"d":0.05},{"p":6,"r":"SoCa","g":"N","e":1550,"d":0.08},{"p":6,"r":"SoCa","g":"N","e":1300,"d":0.12},{"p":6,"r":"SoCa","g":"N","e":1150,"d":0.16},{"p":6,"r":"SoCa","g":"N","e":1020,"d":0.17},{"p":6,"r":"SoCa","g":"N","e":870,"d":0.1},{"p":6,"r":"SoCa","g":"N","e":650,"d":0.03},{"p":6,"r":"SoCa","g":"N","e":400,"d":0.01},{"p":6,"r":"SoCa","g":"N","e":150,"d":0},
    {"p":6,"r":"SoSN","g":"N","e":3880,"d":0},{"p":6,"r":"SoSN","g":"N","e":3600,"d":0.04},{"p":6,"r":"SoSN","g":"N","e":3350,"d":0.08},{"p":6,"r":"SoSN","g":"N","e":3150,"d":0.06},{"p":6,"r":"SoSN","g":"N","e":2900,"d":0.03},{"p":6,"r":"SoSN","g":"N","e":2600,"d":0.04},{"p":6,"r":"SoSN","g":"N","e":2350,"d":0.08},{"p":6,"r":"SoSN","g":"N","e":2150,"d":0.15},{"p":6,"r":"SoSN","g":"N","e":1950,"d":0.2},{"p":6,"r":"SoSN","g":"N","e":1750,"d":0.18},{"p":6,"r":"SoSN","g":"N","e":1550,"d":0.1},{"p":6,"r":"SoSN","g":"N","e":1300,"d":0.03},{"p":6,"r":"SoSN","g":"N","e":950,"d":0},
    {"p":6,"r":"NoSN","g":"N","e":3880,"d":0},{"p":6,"r":"NoSN","g":"N","e":3500,"d":0.03},{"p":6,"r":"NoSN","g":"N","e":3250,"d":0.05},{"p":6,"r":"NoSN","g":"N","e":3050,"d":0.08},{"p":6,"r":"NoSN","g":"N","e":2880,"d":0.16},{"p":6,"r":"NoSN","g":"N","e":2740,"d":0.24},{"p":6,"r":"NoSN","g":"N","e":2620,"d":0.27},{"p":6,"r":"NoSN","g":"N","e":2480,"d":0.22},{"p":6,"r":"NoSN","g":"N","e":2330,"d":0.13},{"p":6,"r":"NoSN","g":"N","e":2150,"d":0.05},{"p":6,"r":"NoSN","g":"N","e":1950,"d":0.02},{"p":6,"r":"NoSN","g":"N","e":1690,"d":0},
    {"p":6,"r":"Casc","g":"N","e":2520,"d":0},{"p":6,"r":"Casc","g":"N","e":2350,"d":0.05},{"p":6,"r":"Casc","g":"N","e":2150,"d":0.11},{"p":6,"r":"Casc","g":"N","e":1980,"d":0.14},{"p":6,"r":"Casc","g":"N","e":1800,"d":0.11},{"p":6,"r":"Casc","g":"N","e":1650,"d":0.08},{"p":6,"r":"Casc","g":"N","e":1500,"d":0.06},{"p":6,"r":"Casc","g":"N","e":1350,"d":0.04},{"p":6,"r":"Casc","g":"N","e":1150,"d":0.06},{"p":6,"r":"Casc","g":"N","e":980,"d":0.08},{"p":6,"r":"Casc","g":"N","e":800,"d":0.03},{"p":6,"r":"Casc","g":"N","e":600,"d":0.01},{"p":6,"r":"Casc","g":"N","e":440,"d":0},
    {"p":6,"r":"Klam","g":"N","e":2530,"d":0},{"p":6,"r":"Klam","g":"N","e":2400,"d":0.1},{"p":6,"r":"Klam","g":"N","e":2270,"d":0.22},{"p":6,"r":"Klam","g":"N","e":2140,"d":0.31},{"p":6,"r":"Klam","g":"N","e":2050,"d":0.33},{"p":6,"r":"Klam","g":"N","e":1960,"d":0.24},{"p":6,"r":"Klam","g":"N","e":1870,"d":0.08},{"p":6,"r":"Klam","g":"N","e":1770,"d":0.02},{"p":6,"r":"Klam","g":"N","e":1400,"d":0.015},{"p":6,"r":"Klam","g":"N","e":1100,"d":0.02},{"p":6,"r":"Klam","g":"N","e":900,"d":0.025},{"p":6,"r":"Klam","g":"N","e":600,"d":0.015},{"p":6,"r":"Klam","g":"N","e":220,"d":0},

    {"p":7,"r":"SoCa","g":"D","e":1700,"d":0},{"p":7,"r":"SoCa","g":"D","e":1550,"d":0.04},{"p":7,"r":"SoCa","g":"D","e":1400,"d":0.08},{"p":7,"r":"SoCa","g":"D","e":1250,"d":0.14},{"p":7,"r":"SoCa","g":"D","e":1100,"d":0.22},{"p":7,"r":"SoCa","g":"D","e":980,"d":0.3},{"p":7,"r":"SoCa","g":"D","e":900,"d":0.35},{"p":7,"r":"SoCa","g":"D","e":780,"d":0.36},{"p":7,"r":"SoCa","g":"D","e":650,"d":0.3},{"p":7,"r":"SoCa","g":"D","e":520,"d":0.2},{"p":7,"r":"SoCa","g":"D","e":400,"d":0.12},{"p":7,"r":"SoCa","g":"D","e":280,"d":0.05},{"p":7,"r":"SoCa","g":"D","e":150,"d":0},
    {"p":7,"r":"SoCa","g":"N","e":3430,"d":0},{"p":7,"r":"SoCa","g":"N","e":3100,"d":0.02},{"p":7,"r":"SoCa","g":"N","e":2700,"d":0.04},{"p":7,"r":"SoCa","g":"N","e":2400,"d":0.05},{"p":7,"r":"SoCa","g":"N","e":2100,"d":0.06},{"p":7,"r":"SoCa","g":"N","e":1800,"d":0.1},{"p":7,"r":"SoCa","g":"N","e":1500,"d":0.15},{"p":7,"r":"SoCa","g":"N","e":1250,"d":0.2},{"p":7,"r":"SoCa","g":"N","e":1100,"d":0.23},{"p":7,"r":"SoCa","g":"N","e":950,"d":0.18},{"p":7,"r":"SoCa","g":"N","e":750,"d":0.08},{"p":7,"r":"SoCa","g":"N","e":500,"d":0.02},{"p":7,"r":"SoCa","g":"N","e":130,"d":0},
    {"p":7,"r":"SoSN","g":"D","e":2150,"d":0},{"p":7,"r":"SoSN","g":"D","e":2050,"d":0.04},{"p":7,"r":"SoSN","g":"D","e":1950,"d":0.09},{"p":7,"r":"SoSN","g":"D","e":1850,"d":0.14},{"p":7,"r":"SoSN","g":"D","e":1750,"d":0.24},{"p":7,"r":"SoSN","g":"D","e":1650,"d":0.32},{"p":7,"r":"SoSN","g":"D","e":1550,"d":0.35},{"p":7,"r":"SoSN","g":"D","e":1450,"d":0.33},{"p":7,"r":"SoSN","g":"D","e":1350,"d":0.22},{"p":7,"r":"SoSN","g":"D","e":1250,"d":0.08},{"p":7,"r":"SoSN","g":"D","e":1150,"d":0},
    {"p":7,"r":"SoSN","g":"N","e":3920,"d":0},{"p":7,"r":"SoSN","g":"N","e":3700,"d":0.05},{"p":7,"r":"SoSN","g":"N","e":3500,"d":0.12},{"p":7,"r":"SoSN","g":"N","e":3350,"d":0.14},{"p":7,"r":"SoSN","g":"N","e":3200,"d":0.09},{"p":7,"r":"SoSN","g":"N","e":3000,"d":0.03},{"p":7,"r":"SoSN","g":"N","e":2750,"d":0.03},{"p":7,"r":"SoSN","g":"N","e":2500,"d":0.06},{"p":7,"r":"SoSN","g":"N","e":2300,"d":0.12},{"p":7,"r":"SoSN","g":"N","e":2150,"d":0.19},{"p":7,"r":"SoSN","g":"N","e":2000,"d":0.22},{"p":7,"r":"SoSN","g":"N","e":1850,"d":0.17},{"p":7,"r":"SoSN","g":"N","e":1700,"d":0.08},{"p":7,"r":"SoSN","g":"N","e":1500,"d":0.03},{"p":7,"r":"SoSN","g":"N","e":1200,"d":0.01},{"p":7,"r":"SoSN","g":"N","e":950,"d":0},
    {"p":7,"r":"NoSN","g":"N","e":3900,"d":0},{"p":7,"r":"NoSN","g":"N","e":3500,"d":0.03},{"p":7,"r":"NoSN","g":"N","e":3250,"d":0.05},{"p":7,"r":"NoSN","g":"N","e":3050,"d":0.08},{"p":7,"r":"NoSN","g":"N","e":2880,"d":0.15},{"p":7,"r":"NoSN","g":"N","e":2740,"d":0.22},{"p":7,"r":"NoSN","g":"N","e":2620,"d":0.24},{"p":7,"r":"NoSN","g":"N","e":2480,"d":0.19},{"p":7,"r":"NoSN","g":"N","e":2330,"d":0.11},{"p":7,"r":"NoSN","g":"N","e":2150,"d":0.04},{"p":7,"r":"NoSN","g":"N","e":1950,"d":0.02},{"p":7,"r":"NoSN","g":"N","e":1670,"d":0},
    {"p":7,"r":"Casc","g":"N","e":2540,"d":0},{"p":7,"r":"Casc","g":"N","e":2350,"d":0.05},{"p":7,"r":"Casc","g":"N","e":2150,"d":0.11},{"p":7,"r":"Casc","g":"N","e":1980,"d":0.14},{"p":7,"r":"Casc","g":"N","e":1800,"d":0.11},{"p":7,"r":"Casc","g":"N","e":1650,"d":0.08},{"p":7,"r":"Casc","g":"N","e":1500,"d":0.06},{"p":7,"r":"Casc","g":"N","e":1350,"d":0.04},{"p":7,"r":"Casc","g":"N","e":1150,"d":0.06},{"p":7,"r":"Casc","g":"N","e":980,"d":0.08},{"p":7,"r":"Casc","g":"N","e":800,"d":0.03},{"p":7,"r":"Casc","g":"N","e":600,"d":0.01},{"p":7,"r":"Casc","g":"N","e":410,"d":0},
    {"p":7,"r":"Klam","g":"N","e":2570,"d":0},{"p":7,"r":"Klam","g":"N","e":2420,"d":0.1},{"p":7,"r":"Klam","g":"N","e":2280,"d":0.22},{"p":7,"r":"Klam","g":"N","e":2140,"d":0.32},{"p":7,"r":"Klam","g":"N","e":2040,"d":0.35},{"p":7,"r":"Klam","g":"N","e":1950,"d":0.24},{"p":7,"r":"Klam","g":"N","e":1850,"d":0.07},{"p":7,"r":"Klam","g":"N","e":1750,"d":0.02},{"p":7,"r":"Klam","g":"N","e":1400,"d":0.015},{"p":7,"r":"Klam","g":"N","e":1000,"d":0.015},{"p":7,"r":"Klam","g":"N","e":600,"d":0.01},{"p":7,"r":"Klam","g":"N","e":180,"d":0},

    {"p":8,"r":"SoCa","g":"D","e":3450,"d":0},{"p":8,"r":"SoCa","g":"D","e":3350,"d":0.05},{"p":8,"r":"SoCa","g":"D","e":3250,"d":0.1},{"p":8,"r":"SoCa","g":"D","e":3150,"d":0.14},{"p":8,"r":"SoCa","g":"D","e":3050,"d":0.1},{"p":8,"r":"SoCa","g":"D","e":2980,"d":0.18},{"p":8,"r":"SoCa","g":"D","e":2900,"d":0.28},{"p":8,"r":"SoCa","g":"D","e":2800,"d":0.29},{"p":8,"r":"SoCa","g":"D","e":2700,"d":0.25},{"p":8,"r":"SoCa","g":"D","e":2620,"d":0.14},{"p":8,"r":"SoCa","g":"D","e":2550,"d":0.04},{"p":8,"r":"SoCa","g":"D","e":2480,"d":0},
    {"p":8,"r":"SoCa","g":"N","e":3430,"d":0},{"p":8,"r":"SoCa","g":"N","e":3000,"d":0.02},{"p":8,"r":"SoCa","g":"N","e":2600,"d":0.02},{"p":8,"r":"SoCa","g":"N","e":2300,"d":0.03},{"p":8,"r":"SoCa","g":"N","e":2000,"d":0.04},{"p":8,"r":"SoCa","g":"N","e":1700,"d":0.06},{"p":8,"r":"SoCa","g":"N","e":1400,"d":0.1},{"p":8,"r":"SoCa","g":"N","e":1200,"d":0.14},{"p":8,"r":"SoCa","g":"N","e":1050,"d":0.15},{"p":8,"r":"SoCa","g":"N","e":900,"d":0.1},{"p":8,"r":"SoCa","g":"N","e":700,"d":0.04},{"p":8,"r":"SoCa","g":"N","e":450,"d":0.01},{"p":8,"r":"SoCa","g":"N","e":150,"d":0},
    {"p":8,"r":"SoSN","g":"D","e":3900,"d":0},{"p":8,"r":"SoSN","g":"D","e":3780,"d":0.05},{"p":8,"r":"SoSN","g":"D","e":3650,"d":0.13},{"p":8,"r":"SoSN","g":"D","e":3520,"d":0.25},{"p":8,"r":"SoSN","g":"D","e":3400,"d":0.33},{"p":8,"r":"SoSN","g":"D","e":3300,"d":0.36},{"p":8,"r":"SoSN","g":"D","e":3200,"d":0.32},{"p":8,"r":"SoSN","g":"D","e":3080,"d":0.2},{"p":8,"r":"SoSN","g":"D","e":2950,"d":0.09},{"p":8,"r":"SoSN","g":"D","e":2830,"d":0.03},{"p":8,"r":"SoSN","g":"D","e":2740,"d":0},
    {"p":8,"r":"SoSN","g":"N","e":3900,"d":0},{"p":8,"r":"SoSN","g":"N","e":3500,"d":0.02},{"p":8,"r":"SoSN","g":"N","e":3000,"d":0.03},{"p":8,"r":"SoSN","g":"N","e":2600,"d":0.04},{"p":8,"r":"SoSN","g":"N","e":2300,"d":0.08},{"p":8,"r":"SoSN","g":"N","e":2100,"d":0.15},{"p":8,"r":"SoSN","g":"N","e":1900,"d":0.17},{"p":8,"r":"SoSN","g":"N","e":1700,"d":0.13},{"p":8,"r":"SoSN","g":"N","e":1500,"d":0.06},{"p":8,"r":"SoSN","g":"N","e":1250,"d":0.02},{"p":8,"r":"SoSN","g":"N","e":950,"d":0},
    {"p":8,"r":"NoSN","g":"D","e":3900,"d":0},{"p":8,"r":"NoSN","g":"D","e":3750,"d":0.04},{"p":8,"r":"NoSN","g":"D","e":3550,"d":0.07},{"p":8,"r":"NoSN","g":"D","e":3400,"d":0.06},{"p":8,"r":"NoSN","g":"D","e":3250,"d":0.05},{"p":8,"r":"NoSN","g":"D","e":3100,"d":0.08},{"p":8,"r":"NoSN","g":"D","e":2950,"d":0.1},{"p":8,"r":"NoSN","g":"D","e":2800,"d":0.14},{"p":8,"r":"NoSN","g":"D","e":2650,"d":0.2},{"p":8,"r":"NoSN","g":"D","e":2500,"d":0.22},{"p":8,"r":"NoSN","g":"D","e":2350,"d":0.16},{"p":8,"r":"NoSN","g":"D","e":2220,"d":0.06},{"p":8,"r":"NoSN","g":"D","e":2120,"d":0},
    {"p":8,"r":"NoSN","g":"N","e":3900,"d":0},{"p":8,"r":"NoSN","g":"N","e":3600,"d":0.02},{"p":8,"r":"NoSN","g":"N","e":3300,"d":0.04},{"p":8,"r":"NoSN","g":"N","e":3100,"d":0.07},{"p":8,"r":"NoSN","g":"N","e":2900,"d":0.13},{"p":8,"r":"NoSN","g":"N","e":2750,"d":0.2},{"p":8,"r":"NoSN","g":"N","e":2600,"d":0.25},{"p":8,"r":"NoSN","g":"N","e":2450,"d":0.2},{"p":8,"r":"NoSN","g":"N","e":2300,"d":0.1},{"p":8,"r":"NoSN","g":"N","e":2150,"d":0.04},{"p":8,"r":"NoSN","g":"N","e":1950,"d":0.02},{"p":8,"r":"NoSN","g":"N","e":1680,"d":0},
    {"p":8,"r":"Casc","g":"D","e":2550,"d":0},{"p":8,"r":"Casc","g":"D","e":2450,"d":0.08},{"p":8,"r":"Casc","g":"D","e":2350,"d":0.17},{"p":8,"r":"Casc","g":"D","e":2250,"d":0.25},{"p":8,"r":"Casc","g":"D","e":2120,"d":0.31},{"p":8,"r":"Casc","g":"D","e":2020,"d":0.32},{"p":8,"r":"Casc","g":"D","e":1920,"d":0.22},{"p":8,"r":"Casc","g":"D","e":1830,"d":0.08},{"p":8,"r":"Casc","g":"D","e":1760,"d":0},
    {"p":8,"r":"Casc","g":"N","e":2550,"d":0},{"p":8,"r":"Casc","g":"N","e":2420,"d":0.07},{"p":8,"r":"Casc","g":"N","e":2300,"d":0.12},{"p":8,"r":"Casc","g":"N","e":2150,"d":0.14},{"p":8,"r":"Casc","g":"N","e":2000,"d":0.1},{"p":8,"r":"Casc","g":"N","e":1850,"d":0.05},{"p":8,"r":"Casc","g":"N","e":1650,"d":0.03},{"p":8,"r":"Casc","g":"N","e":1450,"d":0.03},{"p":8,"r":"Casc","g":"N","e":1250,"d":0.03},{"p":8,"r":"Casc","g":"N","e":1050,"d":0.04},{"p":8,"r":"Casc","g":"N","e":850,"d":0.02},{"p":8,"r":"Casc","g":"N","e":650,"d":0.01},{"p":8,"r":"Casc","g":"N","e":450,"d":0},
    {"p":8,"r":"Klam","g":"D","e":2560,"d":0},{"p":8,"r":"Klam","g":"D","e":2450,"d":0.06},{"p":8,"r":"Klam","g":"D","e":2330,"d":0.15},{"p":8,"r":"Klam","g":"D","e":2220,"d":0.28},{"p":8,"r":"Klam","g":"D","e":2120,"d":0.4},{"p":8,"r":"Klam","g":"D","e":2050,"d":0.43},{"p":8,"r":"Klam","g":"D","e":1980,"d":0.36},{"p":8,"r":"Klam","g":"D","e":1900,"d":0.2},{"p":8,"r":"Klam","g":"D","e":1810,"d":0.06},{"p":8,"r":"Klam","g":"D","e":1720,"d":0.02},{"p":8,"r":"Klam","g":"D","e":1400,"d":0.01},{"p":8,"r":"Klam","g":"D","e":1000,"d":0.01},{"p":8,"r":"Klam","g":"D","e":700,"d":0.005},{"p":8,"r":"Klam","g":"D","e":400,"d":0},
    {"p":8,"r":"Klam","g":"N","e":2560,"d":0},{"p":8,"r":"Klam","g":"N","e":2420,"d":0.06},{"p":8,"r":"Klam","g":"N","e":2280,"d":0.14},{"p":8,"r":"Klam","g":"N","e":2150,"d":0.22},{"p":8,"r":"Klam","g":"N","e":2050,"d":0.25},{"p":8,"r":"Klam","g":"N","e":1960,"d":0.18},{"p":8,"r":"Klam","g":"N","e":1860,"d":0.06},{"p":8,"r":"Klam","g":"N","e":1760,"d":0.02},{"p":8,"r":"Klam","g":"N","e":1400,"d":0.015},{"p":8,"r":"Klam","g":"N","e":1000,"d":0.015},{"p":8,"r":"Klam","g":"N","e":600,"d":0.01},{"p":8,"r":"Klam","g":"N","e":230,"d":0},

    {"p":1,"r":"SoCa","g":"D","m":1050},{"p":1,"r":"SoCa","g":"N","m":1500},{"p":1,"r":"SoSN","g":"D","m":2320},{"p":1,"r":"SoSN","g":"N","m":2290},{"p":1,"r":"NoSN","g":"N","m":2730},{"p":1,"r":"Casc","g":"N","m":1580},{"p":1,"r":"Klam","g":"N","m":1760},
    {"p":2,"r":"SoCa","g":"N","m":1490},{"p":2,"r":"SoSN","g":"D","m":3560},{"p":2,"r":"SoSN","g":"N","m":2270},{"p":2,"r":"NoSN","g":"D","m":3420},{"p":2,"r":"NoSN","g":"N","m":2710},{"p":2,"r":"Casc","g":"N","m":1580},{"p":2,"r":"Klam","g":"D","m":2100},{"p":2,"r":"Klam","g":"N","m":1760},
    {"p":3,"r":"SoCa","g":"D","m":1300},{"p":3,"r":"SoCa","g":"N","m":1500},{"p":3,"r":"SoSN","g":"D","m":1950},{"p":3,"r":"SoSN","g":"N","m":2300},{"p":3,"r":"NoSN","g":"D","m":2670},{"p":3,"r":"NoSN","g":"N","m":2740},{"p":3,"r":"Casc","g":"D","m":1650},{"p":3,"r":"Casc","g":"N","m":1590},{"p":3,"r":"Klam","g":"N","m":1770},
    {"p":4,"r":"SoCa","g":"D","m":2010},{"p":4,"r":"SoCa","g":"N","m":1500},{"p":4,"r":"SoSN","g":"D","m":2170},{"p":4,"r":"SoSN","g":"N","m":2290},{"p":4,"r":"NoSN","g":"D","m":2490},{"p":4,"r":"NoSN","g":"N","m":2740},{"p":4,"r":"Casc","g":"D","m":1820},{"p":4,"r":"Casc","g":"N","m":1580},{"p":4,"r":"Klam","g":"D","m":1840},{"p":4,"r":"Klam","g":"N","m":1760},
    {"p":5,"r":"SoCa","g":"D","m":1370},{"p":5,"r":"SoCa","g":"N","m":1520},{"p":5,"r":"SoSN","g":"D","m":2010},{"p":5,"r":"SoSN","g":"N","m":2310},{"p":5,"r":"NoSN","g":"N","m":2740},{"p":5,"r":"Casc","g":"D","m":1550},{"p":5,"r":"Casc","g":"N","m":1590},{"p":5,"r":"Klam","g":"D","m":1740},{"p":5,"r":"Klam","g":"N","m":1780},
    {"p":6,"r":"SoCa","g":"D","m":1160},{"p":6,"r":"SoCa","g":"N","m":1630},{"p":6,"r":"SoSN","g":"N","m":2290},{"p":6,"r":"NoSN","g":"N","m":2740},{"p":6,"r":"Casc","g":"N","m":1590},{"p":6,"r":"Klam","g":"N","m":1770},
    {"p":7,"r":"SoCa","g":"D","m":940},{"p":7,"r":"SoCa","g":"N","m":1530},{"p":7,"r":"SoSN","g":"D","m":1650},{"p":7,"r":"SoSN","g":"N","m":2300},{"p":7,"r":"NoSN","g":"N","m":2740},{"p":7,"r":"Casc","g":"N","m":1590},{"p":7,"r":"Klam","g":"N","m":1770},
    {"p":8,"r":"SoCa","g":"D","m":2900},{"p":8,"r":"SoCa","g":"N","m":1490},{"p":8,"r":"SoSN","g":"D","m":3250},{"p":8,"r":"SoSN","g":"N","m":2050},{"p":8,"r":"NoSN","g":"D","m":2710},{"p":8,"r":"NoSN","g":"N","m":2750},{"p":8,"r":"Casc","g":"D","m":2030},{"p":8,"r":"Casc","g":"N","m":1570},{"p":8,"r":"Klam","g":"D","m":2060},{"p":8,"r":"Klam","g":"N","m":1720}
  ]},
  "transform": [
    {"calculate": "indexof(['SoCa','SoSN','NoSN','Casc','Klam'], datum.r) + 1", "as": "c"},
    {"calculate": "datum.c + (datum.g == 'D' ? -1 : 1) * datum.d", "as": "xv"},
    {"calculate": "datum.c + (datum.g == 'D' ? -0.53 : 0.53)", "as": "bx"}
  ],
  "columns": 2,
  "spacing": 0,
  "bounds": "flush",
  "resolve": {"scale": {"fill": "independent"}, "legend": {"fill": "independent"}},
  "concat": [
      {"width": 328, "height": 271, "title": "Annual Grassland", "transform": [{"filter": "datum.p == 1"}],
       "layer": [
        {"transform": [{"filter": "isValid(datum.e)"}], "mark": {"type": "area", "orient": "horizontal", "interpolate": "monotone", "stroke": "#1a1a1a", "strokeWidth": 1.1, "opacity": 1},
         "encoding": {"y": {"field": "e", "type": "quantitative", "scale": {"domain": [-200, 5200]}, "axis": {"values": [0,500,1000,1500,2000,2500,3000,3500,4000], "format": "d", "offset": -9, "tickSize": 17, "labelPadding": 15, "title": null}},
          "x": {"field": "xv", "type": "quantitative", "stack": null, "scale": {"domain": [0.3, 5.7]}, "axis": null}, "x2": {"field": "c"},
          "fill": {"field": "g", "type": "nominal", "scale": {"domain": ["D", "N"], "range": ["#6e6e6e", "#bebebe"]}, "legend": {"orient": "none", "legendX": 61.5, "legendY": 219, "title": null, "symbolType": "M-1,-0.75H1V0.75H-1Z", "symbolSize": 256, "symbolStrokeColor": "#1a1a1a", "symbolStrokeWidth": 1, "symbolOpacity": 1, "labelFontSize": 20, "labelColor": "#111", "labelOffset": 17, "rowPadding": 4, "padding": 0, "labelExpr": "datum.label == 'D' ? 'Detection' : 'Non−detection'"}},
          "detail": {"field": "r"}}},
        {"transform": [{"filter": "isValid(datum.m)"}], "mark": {"type": "rule", "strokeWidth": 4.5, "strokeCap": "round", "color": "#1a1a1a"},
         "encoding": {"y": {"field": "m", "type": "quantitative", "scale": {"domain": [-200, 5200]}, "axis": null}, "x": {"field": "bx", "type": "quantitative", "scale": {"domain": [0.3, 5.7]}, "axis": null}, "x2": {"field": "c"}}},
        {"data": {"values": [{}]}, "mark": {"type": "rule", "strokeDash": [2, 8.5], "strokeWidth": 1.3, "color": "#1a1a1a"},
         "encoding": {"y": {"datum": 1950, "type": "quantitative", "scale": {"domain": [-200, 5200]}, "axis": {"orient": "right", "values": [0,500,1000,1500,2000,2500,3000,3500,4000], "offset": -9, "tickSize": 17, "labels": false, "title": null}}}}
       ],
       "resolve": {"scale": {"y": "independent"}}},
      {"width": 327, "height": 271, "title": "Alpine Dwarf−Shrub", "transform": [{"filter": "datum.p == 2"}],
       "layer": [
        {"transform": [{"filter": "isValid(datum.e)"}], "mark": {"type": "area", "orient": "horizontal", "interpolate": "monotone", "stroke": "#1a1a1a", "strokeWidth": 1.1, "opacity": 1},
         "encoding": {"y": {"field": "e", "type": "quantitative", "scale": {"domain": [-200, 5200]}, "axis": {"values": [0,500,1000,1500,2000,2500,3000,3500,4000], "offset": -9, "tickSize": 17, "labels": false, "title": null}},
          "x": {"field": "xv", "type": "quantitative", "stack": null, "scale": {"domain": [0.3, 5.7]}, "axis": null}, "x2": {"field": "c"},
          "fill": {"field": "g", "type": "nominal", "scale": {"domain": ["D", "N"], "range": ["#6e6e6e", "#bebebe"]}, "legend": {"orient": "none", "legendX": 61.5, "legendY": 219, "title": null, "symbolType": "M-1,-0.75H1V0.75H-1Z", "symbolSize": 256, "symbolStrokeColor": "#1a1a1a", "symbolStrokeWidth": 1, "symbolOpacity": 1, "labelFontSize": 20, "labelColor": "#111", "labelOffset": 17, "rowPadding": 4, "padding": 0, "labelExpr": "datum.label == 'D' ? 'Detection' : 'Non−detection'"}},
          "detail": {"field": "r"}}},
        {"transform": [{"filter": "isValid(datum.m)"}], "mark": {"type": "rule", "strokeWidth": 4.5, "strokeCap": "round", "color": "#1a1a1a"},
         "encoding": {"y": {"field": "m", "type": "quantitative", "scale": {"domain": [-200, 5200]}, "axis": null}, "x": {"field": "bx", "type": "quantitative", "scale": {"domain": [0.3, 5.7]}, "axis": null}, "x2": {"field": "c"}}},
        {"data": {"values": [{}]}, "mark": {"type": "rule", "strokeDash": [2, 8.5], "strokeWidth": 1.3, "color": "#1a1a1a"},
         "encoding": {"y": {"datum": 1950, "type": "quantitative", "scale": {"domain": [-200, 5200]}, "axis": {"orient": "right", "values": [0,500,1000,1500,2000,2500,3000,3500,4000], "offset": -9, "tickSize": 17, "labels": false, "title": null}}}}
       ],
       "resolve": {"scale": {"y": "independent"}}},
      {"width": 328, "height": 271, "title": "Sagebrush", "transform": [{"filter": "datum.p == 3"}],
       "layer": [
        {"transform": [{"filter": "isValid(datum.e)"}], "mark": {"type": "area", "orient": "horizontal", "interpolate": "monotone", "stroke": "#1a1a1a", "strokeWidth": 1.1, "opacity": 1},
         "encoding": {"y": {"field": "e", "type": "quantitative", "scale": {"domain": [-200, 5200]}, "axis": {"values": [0,500,1000,1500,2000,2500,3000,3500,4000], "format": "d", "offset": -9, "tickSize": 17, "labelPadding": 15, "title": null}},
          "x": {"field": "xv", "type": "quantitative", "stack": null, "scale": {"domain": [0.3, 5.7]}, "axis": null}, "x2": {"field": "c"},
          "fill": {"field": "g", "type": "nominal", "scale": {"domain": ["D", "N"], "range": ["#6e6e6e", "#bebebe"]}, "legend": {"orient": "none", "legendX": 61.5, "legendY": 219, "title": null, "symbolType": "M-1,-0.75H1V0.75H-1Z", "symbolSize": 256, "symbolStrokeColor": "#1a1a1a", "symbolStrokeWidth": 1, "symbolOpacity": 1, "labelFontSize": 20, "labelColor": "#111", "labelOffset": 17, "rowPadding": 4, "padding": 0, "labelExpr": "datum.label == 'D' ? 'Detection' : 'Non−detection'"}},
          "detail": {"field": "r"}}},
        {"transform": [{"filter": "isValid(datum.m)"}], "mark": {"type": "rule", "strokeWidth": 4.5, "strokeCap": "round", "color": "#1a1a1a"},
         "encoding": {"y": {"field": "m", "type": "quantitative", "scale": {"domain": [-200, 5200]}, "axis": null}, "x": {"field": "bx", "type": "quantitative", "scale": {"domain": [0.3, 5.7]}, "axis": null}, "x2": {"field": "c"}}},
        {"data": {"values": [{}]}, "mark": {"type": "rule", "strokeDash": [2, 8.5], "strokeWidth": 1.3, "color": "#1a1a1a"},
         "encoding": {"y": {"datum": 1950, "type": "quantitative", "scale": {"domain": [-200, 5200]}, "axis": {"orient": "right", "values": [0,500,1000,1500,2000,2500,3000,3500,4000], "offset": -9, "tickSize": 17, "labels": false, "title": null}}}}
       ],
       "resolve": {"scale": {"y": "independent"}}},
      {"width": 327, "height": 271, "title": "Montane Chaparral", "transform": [{"filter": "datum.p == 4"}],
       "layer": [
        {"transform": [{"filter": "isValid(datum.e)"}], "mark": {"type": "area", "orient": "horizontal", "interpolate": "monotone", "stroke": "#1a1a1a", "strokeWidth": 1.1, "opacity": 1},
         "encoding": {"y": {"field": "e", "type": "quantitative", "scale": {"domain": [-200, 5200]}, "axis": {"values": [0,500,1000,1500,2000,2500,3000,3500,4000], "offset": -9, "tickSize": 17, "labels": false, "title": null}},
          "x": {"field": "xv", "type": "quantitative", "stack": null, "scale": {"domain": [0.3, 5.7]}, "axis": null}, "x2": {"field": "c"},
          "fill": {"field": "g", "type": "nominal", "scale": {"domain": ["D", "N"], "range": ["#6e6e6e", "#bebebe"]}, "legend": {"orient": "none", "legendX": 61.5, "legendY": 219, "title": null, "symbolType": "M-1,-0.75H1V0.75H-1Z", "symbolSize": 256, "symbolStrokeColor": "#1a1a1a", "symbolStrokeWidth": 1, "symbolOpacity": 1, "labelFontSize": 20, "labelColor": "#111", "labelOffset": 17, "rowPadding": 4, "padding": 0, "labelExpr": "datum.label == 'D' ? 'Detection' : 'Non−detection'"}},
          "detail": {"field": "r"}}},
        {"transform": [{"filter": "isValid(datum.m)"}], "mark": {"type": "rule", "strokeWidth": 4.5, "strokeCap": "round", "color": "#1a1a1a"},
         "encoding": {"y": {"field": "m", "type": "quantitative", "scale": {"domain": [-200, 5200]}, "axis": null}, "x": {"field": "bx", "type": "quantitative", "scale": {"domain": [0.3, 5.7]}, "axis": null}, "x2": {"field": "c"}}},
        {"data": {"values": [{}]}, "mark": {"type": "rule", "strokeDash": [2, 8.5], "strokeWidth": 1.3, "color": "#1a1a1a"},
         "encoding": {"y": {"datum": 1950, "type": "quantitative", "scale": {"domain": [-200, 5200]}, "axis": {"orient": "right", "values": [0,500,1000,1500,2000,2500,3000,3500,4000], "offset": -9, "tickSize": 17, "labels": false, "title": null}}}}
       ],
       "resolve": {"scale": {"y": "independent"}}},
      {"width": 328, "height": 271, "title": "Mixed Chaparral", "transform": [{"filter": "datum.p == 5"}],
       "layer": [
        {"transform": [{"filter": "isValid(datum.e)"}], "mark": {"type": "area", "orient": "horizontal", "interpolate": "monotone", "stroke": "#1a1a1a", "strokeWidth": 1.1, "opacity": 1},
         "encoding": {"y": {"field": "e", "type": "quantitative", "scale": {"domain": [-200, 5200]}, "axis": {"values": [0,500,1000,1500,2000,2500,3000,3500,4000], "format": "d", "offset": -9, "tickSize": 17, "labelPadding": 15, "title": null}},
          "x": {"field": "xv", "type": "quantitative", "stack": null, "scale": {"domain": [0.3, 5.7]}, "axis": null}, "x2": {"field": "c"},
          "fill": {"field": "g", "type": "nominal", "scale": {"domain": ["D", "N"], "range": ["#6e6e6e", "#bebebe"]}, "legend": {"orient": "none", "legendX": 61.5, "legendY": 219, "title": null, "symbolType": "M-1,-0.75H1V0.75H-1Z", "symbolSize": 256, "symbolStrokeColor": "#1a1a1a", "symbolStrokeWidth": 1, "symbolOpacity": 1, "labelFontSize": 20, "labelColor": "#111", "labelOffset": 17, "rowPadding": 4, "padding": 0, "labelExpr": "datum.label == 'D' ? 'Detection' : 'Non−detection'"}},
          "detail": {"field": "r"}}},
        {"transform": [{"filter": "isValid(datum.m)"}], "mark": {"type": "rule", "strokeWidth": 4.5, "strokeCap": "round", "color": "#1a1a1a"},
         "encoding": {"y": {"field": "m", "type": "quantitative", "scale": {"domain": [-200, 5200]}, "axis": null}, "x": {"field": "bx", "type": "quantitative", "scale": {"domain": [0.3, 5.7]}, "axis": null}, "x2": {"field": "c"}}},
        {"data": {"values": [{}]}, "mark": {"type": "rule", "strokeDash": [2, 8.5], "strokeWidth": 1.3, "color": "#1a1a1a"},
         "encoding": {"y": {"datum": 1950, "type": "quantitative", "scale": {"domain": [-200, 5200]}, "axis": {"orient": "right", "values": [0,500,1000,1500,2000,2500,3000,3500,4000], "offset": -9, "tickSize": 17, "labels": false, "title": null}}}}
       ],
       "resolve": {"scale": {"y": "independent"}}},
      {"width": 327, "height": 271, "title": {"text": ["Chamise−Redshank", "Chaparral"], "offset": -57, "lineHeight": 25}, "transform": [{"filter": "datum.p == 6"}],
       "layer": [
        {"transform": [{"filter": "isValid(datum.e)"}], "mark": {"type": "area", "orient": "horizontal", "interpolate": "monotone", "stroke": "#1a1a1a", "strokeWidth": 1.1, "opacity": 1},
         "encoding": {"y": {"field": "e", "type": "quantitative", "scale": {"domain": [-200, 5200]}, "axis": {"values": [0,500,1000,1500,2000,2500,3000,3500,4000], "offset": -9, "tickSize": 17, "labels": false, "title": null}},
          "x": {"field": "xv", "type": "quantitative", "stack": null, "scale": {"domain": [0.3, 5.7]}, "axis": null}, "x2": {"field": "c"},
          "fill": {"field": "g", "type": "nominal", "scale": {"domain": ["D", "N"], "range": ["#6e6e6e", "#bebebe"]}, "legend": {"orient": "none", "legendX": 61.5, "legendY": 219, "title": null, "symbolType": "M-1,-0.75H1V0.75H-1Z", "symbolSize": 256, "symbolStrokeColor": "#1a1a1a", "symbolStrokeWidth": 1, "symbolOpacity": 1, "labelFontSize": 20, "labelColor": "#111", "labelOffset": 17, "rowPadding": 4, "padding": 0, "labelExpr": "datum.label == 'D' ? 'Detection' : 'Non−detection'"}},
          "detail": {"field": "r"}}},
        {"transform": [{"filter": "isValid(datum.m)"}], "mark": {"type": "rule", "strokeWidth": 4.5, "strokeCap": "round", "color": "#1a1a1a"},
         "encoding": {"y": {"field": "m", "type": "quantitative", "scale": {"domain": [-200, 5200]}, "axis": null}, "x": {"field": "bx", "type": "quantitative", "scale": {"domain": [0.3, 5.7]}, "axis": null}, "x2": {"field": "c"}}},
        {"data": {"values": [{}]}, "mark": {"type": "rule", "strokeDash": [2, 8.5], "strokeWidth": 1.3, "color": "#1a1a1a"},
         "encoding": {"y": {"datum": 1950, "type": "quantitative", "scale": {"domain": [-200, 5200]}, "axis": {"orient": "right", "values": [0,500,1000,1500,2000,2500,3000,3500,4000], "offset": -9, "tickSize": 17, "labels": false, "title": null}}}}
       ],
       "resolve": {"scale": {"y": "independent"}}},
      {"width": 328, "height": 271, "title": "Desert Scrub", "transform": [{"filter": "datum.p == 7"}],
       "layer": [
        {"transform": [{"filter": "isValid(datum.e)"}], "mark": {"type": "area", "orient": "horizontal", "interpolate": "monotone", "stroke": "#1a1a1a", "strokeWidth": 1.1, "opacity": 1},
         "encoding": {"y": {"field": "e", "type": "quantitative", "scale": {"domain": [-200, 5200]}, "axis": {"values": [0,500,1000,1500,2000,2500,3000,3500,4000], "format": "d", "offset": -9, "tickSize": 17, "labelPadding": 15, "title": null}},
          "x": {"field": "xv", "type": "quantitative", "stack": null, "scale": {"domain": [0.3, 5.7]}, "axis": {"values": [1,2,3,4,5], "labelExpr": "['SoCa','SoSN','NoSN','Casc','Klam'][datum.value - 1]", "labelAngle": 270, "tickSize": 8, "labelPadding": 13, "labelFontSize": 21, "title": null}}, "x2": {"field": "c"},
          "fill": {"field": "g", "type": "nominal", "scale": {"domain": ["D", "N"], "range": ["#6e6e6e", "#bebebe"]}, "legend": {"orient": "none", "legendX": 61.5, "legendY": 219, "title": null, "symbolType": "M-1,-0.75H1V0.75H-1Z", "symbolSize": 256, "symbolStrokeColor": "#1a1a1a", "symbolStrokeWidth": 1, "symbolOpacity": 1, "labelFontSize": 20, "labelColor": "#111", "labelOffset": 17, "rowPadding": 4, "padding": 0, "labelExpr": "datum.label == 'D' ? 'Detection' : 'Non−detection'"}},
          "detail": {"field": "r"}}},
        {"transform": [{"filter": "isValid(datum.m)"}], "mark": {"type": "rule", "strokeWidth": 4.5, "strokeCap": "round", "color": "#1a1a1a"},
         "encoding": {"y": {"field": "m", "type": "quantitative", "scale": {"domain": [-200, 5200]}, "axis": null}, "x": {"field": "bx", "type": "quantitative", "scale": {"domain": [0.3, 5.7]}, "axis": {"values": [1,2,3,4,5], "labelExpr": "['SoCa','SoSN','NoSN','Casc','Klam'][datum.value - 1]", "labelAngle": 270, "tickSize": 8, "labelPadding": 13, "labelFontSize": 21, "title": null}}, "x2": {"field": "c"}}},
        {"data": {"values": [{}]}, "mark": {"type": "rule", "strokeDash": [2, 8.5], "strokeWidth": 1.3, "color": "#1a1a1a"},
         "encoding": {"y": {"datum": 1950, "type": "quantitative", "scale": {"domain": [-200, 5200]}, "axis": {"orient": "right", "values": [0,500,1000,1500,2000,2500,3000,3500,4000], "offset": -9, "tickSize": 17, "labels": false, "title": null}}}}
       ],
       "resolve": {"scale": {"y": "independent"}}},
      {"width": 327, "height": 271, "title": "Subalpine Conifer", "transform": [{"filter": "datum.p == 8"}],
       "layer": [
        {"transform": [{"filter": "isValid(datum.e)"}], "mark": {"type": "area", "orient": "horizontal", "interpolate": "monotone", "stroke": "#1a1a1a", "strokeWidth": 1.1, "opacity": 1},
         "encoding": {"y": {"field": "e", "type": "quantitative", "scale": {"domain": [-200, 5200]}, "axis": {"values": [0,500,1000,1500,2000,2500,3000,3500,4000], "offset": -9, "tickSize": 17, "labels": false, "title": null}},
          "x": {"field": "xv", "type": "quantitative", "stack": null, "scale": {"domain": [0.3, 5.7]}, "axis": {"values": [1,2,3,4,5], "labelExpr": "['SoCa','SoSN','NoSN','Casc','Klam'][datum.value - 1]", "labelAngle": 270, "tickSize": 8, "labelPadding": 13, "labelFontSize": 21, "title": null}}, "x2": {"field": "c"},
          "fill": {"field": "g", "type": "nominal", "scale": {"domain": ["D", "N"], "range": ["#6e6e6e", "#bebebe"]}, "legend": {"orient": "none", "legendX": 61.5, "legendY": 219, "title": null, "symbolType": "M-1,-0.75H1V0.75H-1Z", "symbolSize": 256, "symbolStrokeColor": "#1a1a1a", "symbolStrokeWidth": 1, "symbolOpacity": 1, "labelFontSize": 20, "labelColor": "#111", "labelOffset": 17, "rowPadding": 4, "padding": 0, "labelExpr": "datum.label == 'D' ? 'Detection' : 'Non−detection'"}},
          "detail": {"field": "r"}}},
        {"transform": [{"filter": "isValid(datum.m)"}], "mark": {"type": "rule", "strokeWidth": 4.5, "strokeCap": "round", "color": "#1a1a1a"},
         "encoding": {"y": {"field": "m", "type": "quantitative", "scale": {"domain": [-200, 5200]}, "axis": null}, "x": {"field": "bx", "type": "quantitative", "scale": {"domain": [0.3, 5.7]}, "axis": {"values": [1,2,3,4,5], "labelExpr": "['SoCa','SoSN','NoSN','Casc','Klam'][datum.value - 1]", "labelAngle": 270, "tickSize": 8, "labelPadding": 13, "labelFontSize": 21, "title": null}}, "x2": {"field": "c"}}},
        {"data": {"values": [{}]}, "mark": {"type": "rule", "strokeDash": [2, 8.5], "strokeWidth": 1.3, "color": "#1a1a1a"},
         "encoding": {"y": {"datum": 1950, "type": "quantitative", "scale": {"domain": [-200, 5200]}, "axis": {"orient": "right", "values": [0,500,1000,1500,2000,2500,3000,3500,4000], "offset": -9, "tickSize": 17, "labels": false, "title": null}}}}
       ],
       "resolve": {"scale": {"y": "independent"}}}
  ],
  "config": {
    "font": "Liberation Sans",
    "view": {"stroke": "#1a1a1a", "strokeWidth": 1.4},
    "axis": {"domain": false, "grid": false, "tickColor": "#1a1a1a", "tickWidth": 1.3, "labelColor": "#111", "labelFont": "Liberation Sans", "labelFontSize": 21.5},
    "legend": {"labelFont": "Liberation Sans"},
    "title": {"font": "Liberation Sans", "fontSize": 23, "fontWeight": "bold", "color": "#111", "offset": -35, "baseline": "alphabetic", "anchor": "middle", "frame": "group", "lineHeight": 22}
  }
}
